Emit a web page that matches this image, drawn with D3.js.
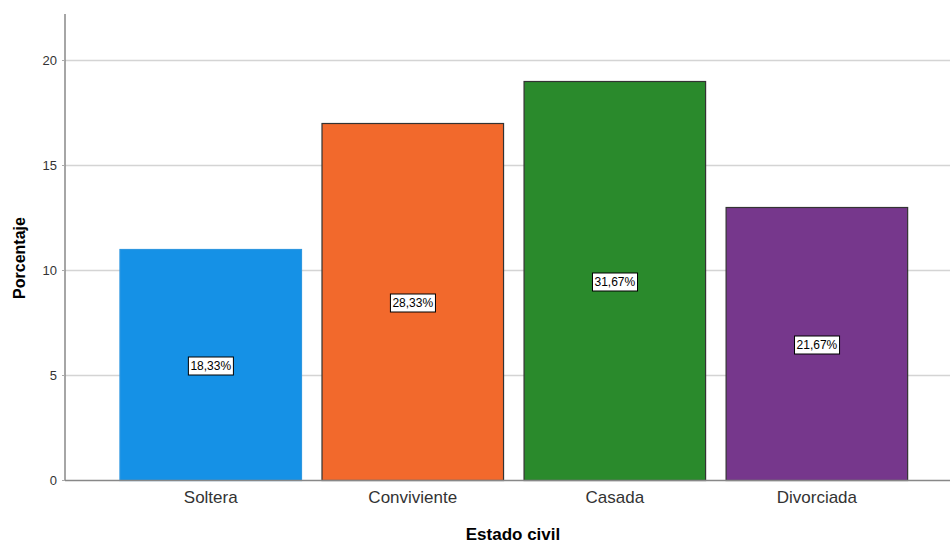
<!DOCTYPE html>
<html><head><meta charset="utf-8">
<script src="https://cdn.jsdelivr.net/npm/d3@7"></script>
<style>body{margin:0;background:#fff;} svg{display:block;font-family:"Liberation Sans",Arial,sans-serif;}</style>
</head><body>
<script>
const categories = ["Soltera","Conviviente","Casada","Divorciada"];
const values = [11,17,19,13];
const labels = ["18,33%","28,33%","31,67%","21,67%"];
const colors = ["#1591e6","#f2692c","#2a8a2c","#76378c"];
const strokes = ["#2e97e0","#333333","#333333","#333333"];
const yTicks = [0,5,10,15,20];

const W=950,H=545;
const svg=d3.select("body").append("svg").attr("width",W).attr("height",H);
const x0=65, y0=480.5;
const x=d3.scaleBand().domain(categories).range([x0,962.6]).paddingInner(0.1015).paddingOuter(0.272);
const y=d3.scaleLinear().domain([0,22.2]).range([y0,y0-22.2*21]);

// gridlines
svg.append("g").selectAll("line").data(yTicks.filter(d=>d>0)).join("line")
  .attr("x1",x0).attr("x2",W).attr("y1",d=>y(d)).attr("y2",d=>y(d))
  .attr("stroke","#d4d4d4").attr("stroke-width",1.5);

// bars
svg.append("g").selectAll("rect").data(values).join("rect")
  .attr("x",(d,i)=>x(categories[i])).attr("width",x.bandwidth())
  .attr("y",d=>y(d)).attr("height",d=>y(0)-y(d))
  .attr("fill",(d,i)=>colors[i]).attr("stroke",(d,i)=>strokes[i]).attr("stroke-width",1.2);

// y axis
const ya=svg.append("g").attr("transform",`translate(${x0},0)`)
  .call(d3.axisLeft(y).tickValues(yTicks).tickSize(0).tickPadding(8));
ya.select(".domain").remove();
ya.selectAll("text").attr("font-size",13).attr("fill","#333").attr("font-family","Liberation Sans, Arial");
svg.append("line").attr("x1",x0).attr("x2",x0).attr("y1",14).attr("y2",y0).attr("stroke","#888").attr("stroke-width",1.5);
svg.append("line").attr("x1",x0).attr("x2",W).attr("y1",y0).attr("y2",y0).attr("stroke","#888").attr("stroke-width",1.5);
// small ticks
svg.append("g").selectAll("line").data(yTicks).join("line")
  .attr("x1",x0-3).attr("x2",x0).attr("y1",d=>y(d)).attr("y2",d=>y(d)).attr("stroke","#aaa");

// x axis labels
const xa=svg.append("g").attr("transform",`translate(0,${y0})`)
  .call(d3.axisBottom(x).tickSize(0).tickPadding(10));
xa.select(".domain").remove();
xa.selectAll("text").attr("font-size",17).attr("fill","#333").attr("font-family","Liberation Sans, Arial");

// value labels
const lg=svg.append("g").selectAll("g").data(values).join("g")
  .attr("transform",(d,i)=>`translate(${x(categories[i])+x.bandwidth()/2},${y(d/2)+1})`);
lg.each(function(d,i){
  const g=d3.select(this);
  const t=g.append("text").text(labels[i]).attr("text-anchor","middle").attr("dy","0.35em")
    .attr("font-size",12).attr("fill","#000");
  const bb=t.node().getBBox();
  g.insert("rect","text").attr("x",bb.x-2).attr("y",-9).attr("width",bb.width+4).attr("height",18)
    .attr("fill","#fff").attr("stroke","#000").attr("stroke-width",1);
});

// axis titles
svg.append("text").attr("x",513).attr("y",540).attr("text-anchor","middle")
  .attr("font-size",17).attr("font-weight","bold").attr("fill","#000").text("Estado civil");
svg.append("text").attr("transform","translate(25,258) rotate(-90)").attr("text-anchor","middle")
  .attr("font-size",16).attr("font-weight","bold").attr("fill","#000").text("Porcentaje");
</script>
</body></html>
